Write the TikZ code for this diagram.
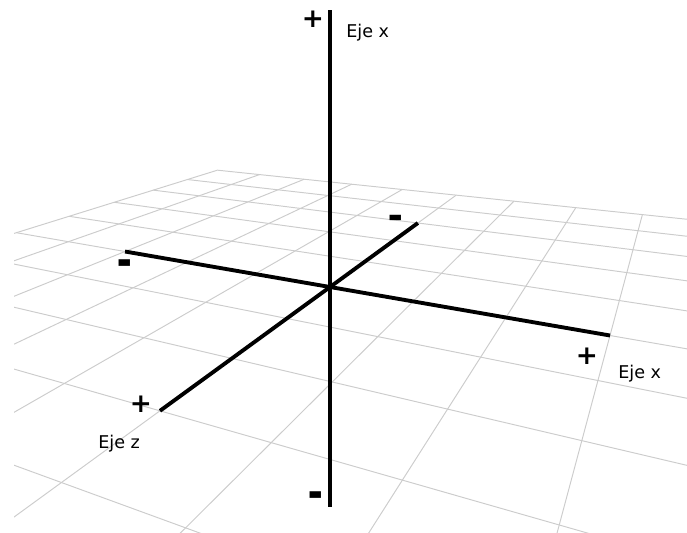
\documentclass[tikz,border=0pt]{standalone}
\usepackage{fontspec}
\setmainfont{DejaVu Sans}
\usepackage{graphicx}
\usetikzlibrary{calc}

%perspective of the floor: point (u,v) of the plane -> picture
\def\au{-0.1547}
\def\bv{-0.3184}
\newcommand{\suelo}[3]{%
  \pgfmathsetmacro\pa{\au*(#2)}%
  \pgfmathsetmacro\pb{\bv*(#3)}%
  \pgfmathsetmacro\pd{1+\pa+\pb}%
  \coordinate (#1) at ({(330-1200*\pa+694*\pb)/\pd}, {(287+22*\pa+22*\pb)/\pd});%
}

\begin{document}
\begin{tikzpicture}[x = 0.02cm, y = -0.02cm,
    rejilla/.style = {draw = black!20, line width = 0.55pt},
    eje/.style = {draw = black, line width = 2.2pt},
    signo/.style = {font = \fontsize{15}{15}\selectfont\bfseries, inner sep = 0pt},
    etiqueta/.style = {font = \fontsize{10}{12}\selectfont, inner sep = 0pt, anchor = base west}]

    \useasboundingbox (0, 0) rectangle (687, 532);

      %floor grid
      \begin{scope}
        \clip (14, 0) rectangle (687, 532);
        \foreach \i in {-5,...,4}{
          \pgfmathsetmacro\vfin{(-0.5-\au*\i/3)/\bv}
          \suelo{P}{\i/3}{-5/3}
          \suelo{Q}{\i/3}{\vfin}
          \draw[rejilla] (P) -- (Q);
        }
        \foreach \j in {-5,...,5}{
          \pgfmathsetmacro\ufin{min(4,(-0.5-\bv*\j/3)/\au)}
          \suelo{P}{-5/3}{\j/3}
          \suelo{Q}{\ufin}{\j/3}
          \draw[rejilla] (P) -- (Q);
        }
      \end{scope}

      %axes
      \suelo{O}{0}{0}
      \suelo{A}{-1}{0}
      \suelo{B}{1}{0}
      \suelo{C}{0}{1}
      \suelo{D}{0}{-1}
      \path (330, 10) coordinate (E);
      \path (330, 507) coordinate (F);

      \draw[eje] (A) -- (B);
      \draw[eje] (D) -- (C);
      \draw[eje, line width = 1.8pt] (E) -- (F);

      %signs and names
      \node (K) at (313, 19) [signo] {+};
      \node (L) at (346, 37) [etiqueta] {Eje x};
      \node (M) at (316, 501) [signo] {\scalebox{1.1}[2]{–}};
      \node (N) at (125, 269) [signo] {\scalebox{1.1}[2]{–}};
      \node (R) at (587, 356) [signo] {+};
      \node (S) at (618, 378) [etiqueta] {Eje x};
      \node (T) at (396, 222) [signo] {\scalebox{1.1}[1.6]{–}};
      \node (U) at (141, 404) [signo] {+};
      \node (V) at (98, 448) [etiqueta] {Eje z};

\end{tikzpicture}
\end{document}
